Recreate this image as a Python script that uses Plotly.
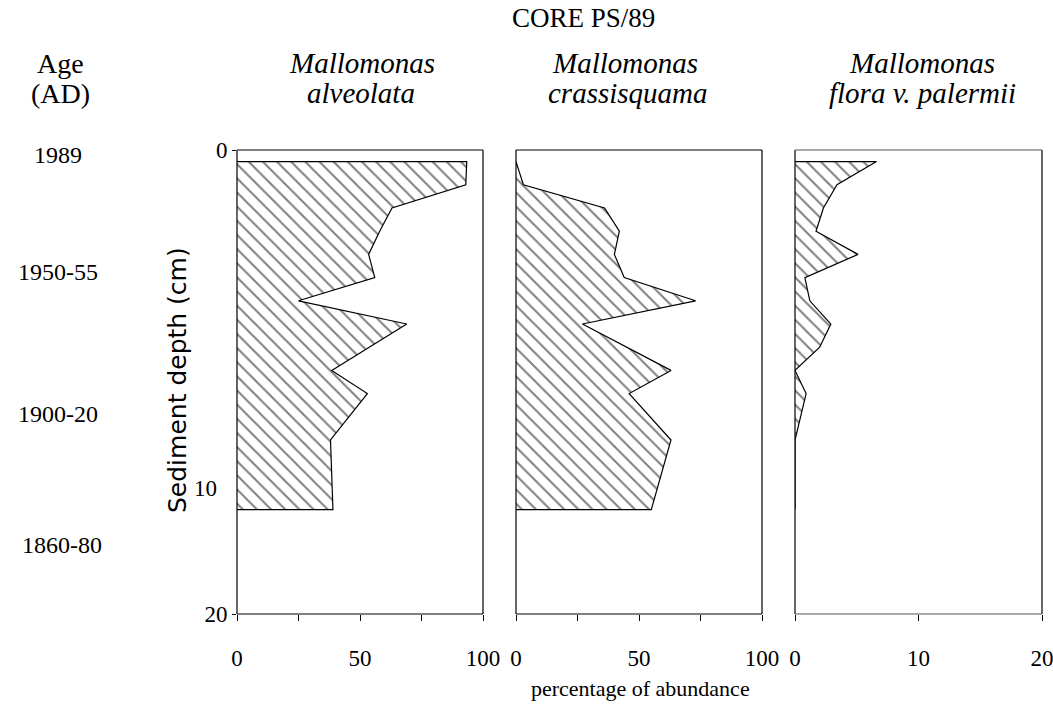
import plotly.graph_objects as go

# Sediment core PS/89: chrysophyte scale abundance (%) by depth (cm)
title_line1 = ["Mallomonas", "Mallomonas", "Mallomonas"]
title_line2 = ["alveolata", "crassisquama", "flora v. palermii"]

depth_alveolata = [0.5, 1.5, 2.5, 3.5, 4.5, 5.5, 6.5, 7.5, 9.5, 10.5, 12.5, 15.5]
pct_alveolata = [93.4, 93, 63, 58, 53.5, 56, 25, 69, 38.5, 53, 38, 39]

depth_crassisquama = [0.5, 1.5, 2.5, 3.5, 4.5, 5.5, 6.5, 7.5, 9.5, 10.5, 12.5, 15.5]
pct_crassisquama = [0, 3, 36, 42, 40, 44, 73, 27, 63, 46, 63, 55]

depth_palermii = [0.5, 1.5, 2.5, 3.5, 4.5, 5.5, 6.5, 7.5, 8.5, 9.5, 10.5, 12.5, 15.5]
pct_palermii = [6.6, 3.4, 2.3, 1.7, 5.1, 0.8, 1.2, 2.9, 2.0, 0, 0.9, 0, 0]

x_ranges = [[0, 100], [0, 100], [0, 20]]
x_tickvals = [[0, 25, 50, 75, 100], [0, 25, 50, 75, 100], [0, 10, 20]]
x_ticktext = [["0", "", "50", "", "100"], ["0", "", "50", "", "100"], ["0", "10", "20"]]

age_labels = ["1989", "1950-55", "1900-20", "1860-80"]

W, H = 1053, 705
serif = "Liberation Serif"


def px_x(p):
    return p / W


def px_y(p):
    return 1 - p / H


panels_px = [(237, 483), (516, 762), (795, 1042)]
top_px, bottom_px = 150, 614

series = [
    (depth_alveolata, pct_alveolata),
    (depth_crassisquama, pct_crassisquama),
    (depth_palermii, pct_palermii),
]

fig = go.Figure()
for i, (depths, vals) in enumerate(series):
    n = "" if i == 0 else str(i + 1)
    xs = [0] + list(vals) + [0]
    ys = [depths[0]] + list(depths) + [depths[-1]]
    fig.add_trace(go.Scatter(
        x=xs, y=ys, mode="lines", fill="toself",
        line=dict(color="black", width=1.2),
        fillcolor="white",
        fillpattern=dict(shape="\\", fgcolor="black", bgcolor="white",
                         size=10, solidity=0.2),
        xaxis="x" + n, yaxis="y" + n, showlegend=False, hoverinfo="skip",
    ))

layout = dict(
    width=W, height=H,
    margin=dict(l=0, r=0, t=0, b=0, pad=0, autoexpand=False),
    paper_bgcolor="white", plot_bgcolor="white",
    font=dict(family=serif, color="black"),
)
shapes = []
for i, (x0, x1) in enumerate(panels_px):
    n = "" if i == 0 else str(i + 1)
    layout["xaxis" + n] = dict(
        domain=[px_x(x0), px_x(x1)], range=x_ranges[i], anchor="y" + n,
        showline=False, showgrid=False, zeroline=False, automargin=False,
        ticks="outside", ticklen=6, tickcolor="black", tickwidth=1,
        tickvals=x_tickvals[i], ticktext=x_ticktext[i],
        tickfont=dict(family=serif, size=23), ticklabelstandoff=17,
        ticklabeloverflow="allow",
    )
    layout["yaxis" + n] = dict(
        domain=[px_y(bottom_px), px_y(top_px)], range=[20, 0], anchor="x" + n,
        showline=False, showgrid=False, zeroline=False, automargin=False,
        ticks="outside" if i == 0 else "", ticklen=4, tickcolor="black",
        tickvals=[0, 20], showticklabels=(i == 0),
        tickfont=dict(family=serif, size=23), ticklabelstandoff=0,
        ticklabeloverflow="allow",
    )
    # panel frame: left/right solid black, top/bottom slightly lighter on the last panel
    xr, yr = "x%s domain" % n, "y%s domain" % n
    tb_col = "#555" if i == 2 else "black"
    for (a0, b0, a1, b1, col) in [
        (0, 0, 0, 1, "black"), (1, 0, 1, 1, "black"),
        (0, 1, 1, 1, tb_col), (0, 0, 1, 0, tb_col),
    ]:
        shapes.append(dict(type="line", xref=xr, yref=yr, x0=a0, y0=b0, x1=a1, y1=b1,
                           line=dict(color=col, width=1.2), layer="above"))
layout["shapes"] = shapes
fig.update_layout(**layout)

ann = []


def text(s, x, y, size, italic=False, angle=0, family=serif):
    ann.append(dict(
        text=s, x=px_x(x), y=px_y(y), xref="paper", yref="paper",
        xanchor="center", yanchor="middle", showarrow=False, textangle=angle,
        font=dict(family=family, size=size, color="black",
                  style="italic" if italic else "normal"),
    ))


text("CORE PS/89", 583, 18, 27)
title_x = [(362, 361), (625, 628), (922, 922)]
for i in range(3):
    text(title_line1[i], title_x[i][0], 63, 29, italic=True)
    text(title_line2[i], title_x[i][1], 93, 29, italic=True)

text("Age", 60, 63, 28)
text("(AD)", 60, 94, 28)
for lab, yy, xx in zip(age_labels, [155, 272, 414, 545], [58, 58, 58, 62]):
    text(lab, xx, yy, 24)

text("percentage of abundance", 640, 688, 22)
text("Sediment depth (cm)", 177, 380, 25, angle=-90, family="DejaVu Sans")
text("10", 205, 488, 23)

fig.update_layout(annotations=ann)
fig.write_html(
    "out.html",
    post_script="document.body.style.margin='0';document.body.style.overflow='hidden';",
)
